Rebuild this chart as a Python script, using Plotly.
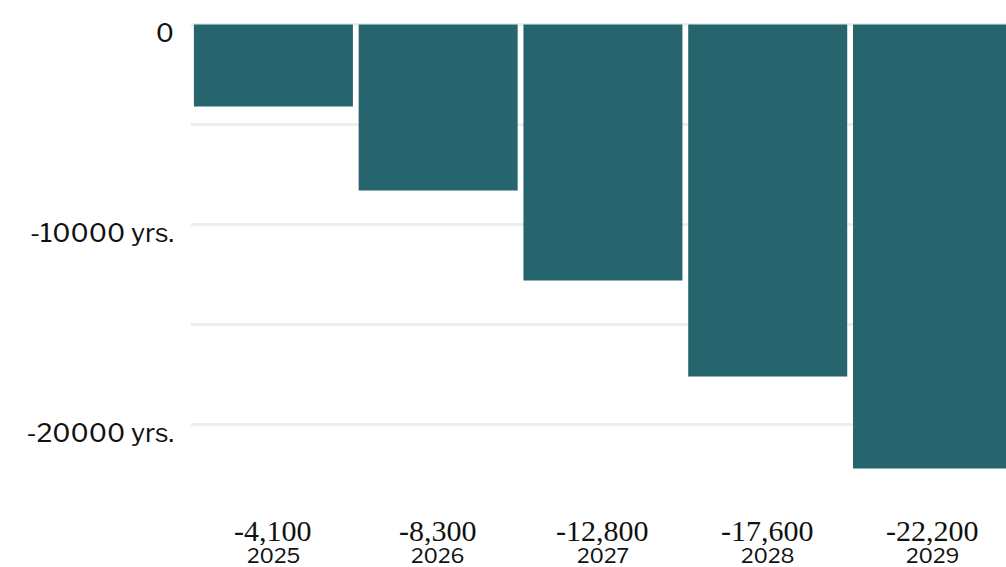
import plotly.graph_objects as go

# Projected change per year
years = ["2025", "2026", "2027", "2028", "2029"]
values = [-4100, -8300, -12800, -17600, -22200]
value_labels = ["-4,100", "-8,300", "-12,800", "-17,600", "-22,200"]

grid_vals = [0, -5000, -10000, -15000, -20000]
grid_text = ["0", "", "-10000 yrs.", "", "-20000 yrs."]

BAR_COLOR = "#26646E"
SANS = "Libre Franklin, Inter, Open Sans, sans-serif"
SERIF = "Liberation Serif, Times New Roman, serif"

fig = go.Figure(
    go.Bar(
        x=list(range(len(years))),
        y=values,
        marker=dict(color=BAR_COLOR, line=dict(width=0)),
        hoverinfo="skip",
    )
)

for i, (yr, lab) in enumerate(zip(years, value_labels)):
    fig.add_annotation(
        x=i, y=0, xref="x", yref="paper", text=lab, showarrow=False,
        yanchor="middle", yshift=-50, height=30,
        font=dict(family=SERIF, size=30, color="#111111"),
    )
    fig.add_annotation(
        x=i, y=0, xref="x", yref="paper", text=yr, showarrow=False,
        yanchor="middle", yshift=-75, height=20,
        font=dict(family=SANS, size=21, color="#111111"),
    )

fig.update_layout(
    width=1006,
    height=567,
    margin=dict(l=191, r=0, t=0, b=87),
    paper_bgcolor="white",
    plot_bgcolor="white",
    bargap=0.035,
    showlegend=False,
    xaxis=dict(
        range=[-0.5, 4.446],
        showticklabels=False,
        showgrid=False,
        zeroline=False,
        showline=False,
        ticks="",
        fixedrange=True,
    ),
    yaxis=dict(
        range=[-22775, 1225],
        tickmode="array",
        tickvals=grid_vals,
        ticktext=grid_text,
        showgrid=True,
        gridcolor="#eeeeee",
        gridwidth=3,
        zeroline=False,
        showline=False,
        ticks="",
        ticklabelstandoff=16,
        ticklabelshift=8,
        tickfont=dict(family=SANS, size=26.5, color="#111111"),
        fixedrange=True,
    ),
)

fig.write_html("out.html", config={"displayModeBar": False})
